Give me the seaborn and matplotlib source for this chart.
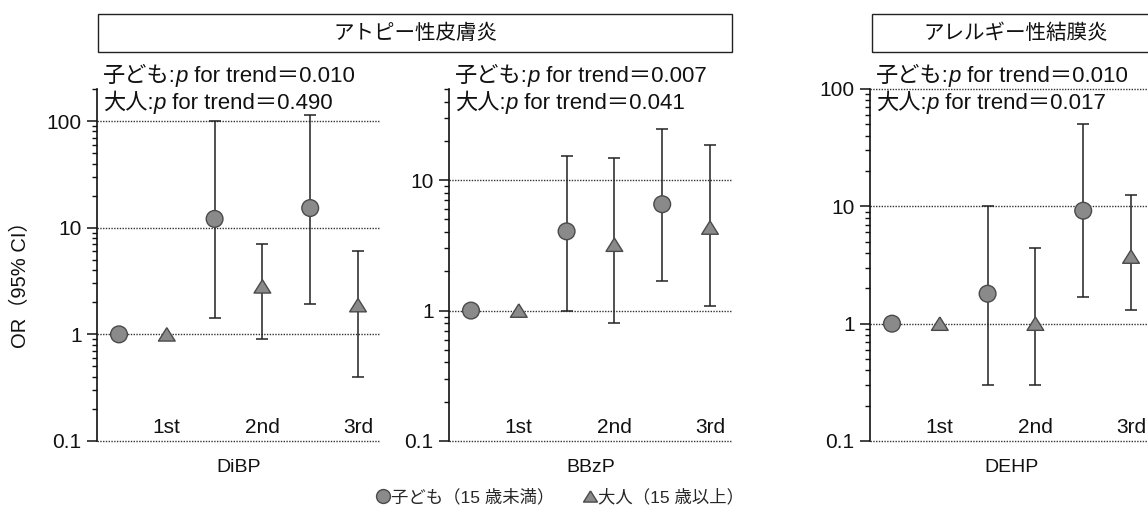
import numpy as np
import pandas as pd
import matplotlib
matplotlib.use('Agg')
import matplotlib.pyplot as plt
import matplotlib.transforms as mtransforms
from matplotlib.lines import Line2D
from matplotlib.patches import Rectangle
from matplotlib.ticker import NullFormatter
import seaborn as sns

# %%
# Values (odds ratios and 95% CI, reference level has no CI)
panels = ['DiBP', 'BBzP', 'DEHP']
levels = ['1st', '2nd', '3rd']

child_or = {'DiBP': [1.0, 12.1, 15.3], 'BBzP': [1.0, 4.05, 6.54], 'DEHP': [1.0, 1.8, 9.18]}
child_lo = {'DiBP': [np.nan, 1.42, 1.91], 'BBzP': [np.nan, 1.0, 1.69], 'DEHP': [np.nan, 0.30, 1.68]}
child_hi = {'DiBP': [np.nan, 100.0, 115.0], 'BBzP': [np.nan, 15.4, 24.7], 'DEHP': [np.nan, 10.0, 50.0]}

adult_or = {'DiBP': [1.0, 2.82, 1.88], 'BBzP': [1.0, 3.2, 4.33], 'DEHP': [1.0, 1.0, 3.73]}
adult_lo = {'DiBP': [np.nan, 0.91, 0.40], 'BBzP': [np.nan, 0.80, 1.09], 'DEHP': [np.nan, 0.30, 1.30]}
adult_hi = {'DiBP': [np.nan, 7.0, 6.06], 'BBzP': [np.nan, 14.9, 18.6], 'DEHP': [np.nan, 4.39, 12.5]}

p_child = ['0.010', '0.007', '0.010']
p_adult = ['0.490', '0.041', '0.017']
y_top = [200, 50, 100]

headers = ['アトピー性皮膚炎', 'アレルギー性結膜炎']
legend_labels = ['子ども（15 歳未満）', '大人（15 歳以上）']

# %%
sns.set_theme(style='ticks')
plt.rcParams['font.family'] = ['Liberation Sans', 'Noto Sans CJK JP']

W, H = 1148, 514
fig = plt.figure(figsize=(W / 100, H / 100), dpi=100)
renderer = fig.canvas.get_renderer()

marker_face = '#8a8a8a'
marker_edge = '#4a4a4a'
tri = [(0, 0.8), (-1, -0.8), (1, -0.8), (0, 0.8)]

lefts = [97, 449, 870]
ax_w, ax_top, ax_bot = 283, 89, 441


def rich_text(x_px, y_px, pieces, size):
    # draw a line of text made of pieces with different styles, left to right
    for s, style in pieces:
        t = fig.text(x_px, y_px, s, transform=mtransforms.IdentityTransform(),
                     fontsize=size, fontstyle=style, va='baseline', ha='left', color='#111')
        x_px = t.get_window_extent(renderer).x1


for i, name in enumerate(panels):
    ax = fig.add_axes([lefts[i] / W, (H - ax_bot) / H, ax_w / W, (ax_bot - ax_top) / H])

    df = pd.DataFrame({
        'x': [0, 2, 4, 1, 3, 5],
        'OR': child_or[name] + adult_or[name],
        'lo': child_lo[name] + adult_lo[name],
        'hi': child_hi[name] + adult_hi[name],
        'group': ['child'] * 3 + ['adult'] * 3,
    })
    ci = df.dropna()
    ax.errorbar(ci['x'], ci['OR'], yerr=[ci['OR'] - ci['lo'], ci['hi'] - ci['OR']],
                fmt='none', ecolor='#222', elinewidth=1.1, capsize=4.5, capthick=1.1, zorder=2)
    sns.scatterplot(data=df, x='x', y='OR', style='group', markers={'child': 'o', 'adult': tri},
                    s=145, color=marker_face, edgecolor=marker_edge, linewidth=1.0,
                    legend=False, ax=ax, zorder=3)

    ax.set_yscale('log')
    ax.set_ylim(0.1, y_top[i])
    ax.set_xlim(-0.46, 5.46)
    ax.set_xticks([])
    ax.set_xlabel('')
    ax.set_ylabel('')
    decades = [d for d in [0.1, 1, 10, 100] if d <= y_top[i]]
    ax.set_yticks(decades)
    ax.set_yticklabels([f'{d:g}' for d in decades])
    ax.yaxis.set_minor_formatter(NullFormatter())
    ax.tick_params(axis='y', which='major', length=7, width=1.1, labelsize=15, pad=4, colors='#111')
    ax.tick_params(axis='y', which='minor', length=3.5, width=1.0, colors='#111')
    for d in decades:
        ax.axhline(d, color='#333', lw=1.0, ls=(0, (1, 1)), clip_on=False, zorder=1)
    sns.despine(ax=ax, bottom=True)
    ax.spines['left'].set_linewidth(1.2)
    ax.spines['left'].set_color('#111')

    # tertile labels sit under the adult markers, inside the axes
    for k, lab in enumerate(levels):
        ax.text(2 * k + 1, 0.012, lab, transform=ax.get_xaxis_transform(),
                ha='center', va='bottom', fontsize=15, color='#111')
    ax.text(0.5, -(468 - ax_bot) / (ax_bot - ax_top), name, transform=ax.transAxes,
            ha='center', va='center', fontsize=14, color='#111')

    x0 = lefts[i] + 6
    rich_text(x0, H - 82, [('子ども:', 'normal'), ('p', 'italic'), (' for trend＝' + p_child[i], 'normal')], 16)
    rich_text(x0, H - 109, [('大人:', 'normal'), ('p', 'italic'), (' for trend＝' + p_adult[i], 'normal')], 16)

fig.text(20 / W, 1 - 280 / H, 'OR（95% CI）', rotation=90, ha='center', va='center', fontsize=14.5, color='#111')

# header boxes
for (x1, x2), title in zip([(98, 732), (872, 1160)], headers):
    fig.add_artist(Rectangle((x1 / W, 1 - 52 / H), (x2 - x1) / W, 38 / H, transform=fig.transFigure,
                             fill=False, edgecolor='#222', lw=1.0))
    fig.text((x1 + x2) / 2 / W, 1 - 33 / H, title, ha='center', va='center', fontsize=14.8, color='#111')

handles = [
    Line2D([], [], ls='none', marker='o', ms=10, mfc=marker_face, mec=marker_edge),
    Line2D([], [], ls='none', marker=tri, ms=10, mfc=marker_face, mec=marker_edge),
]
fig.legend(handles, legend_labels, loc='center', bbox_to_anchor=(560 / W, 1 - 497 / H), ncol=2,
           frameon=False, fontsize=12.5, handlelength=0.8, handletextpad=0.1, columnspacing=1.6)

fig.savefig('out.png', dpi=100)
